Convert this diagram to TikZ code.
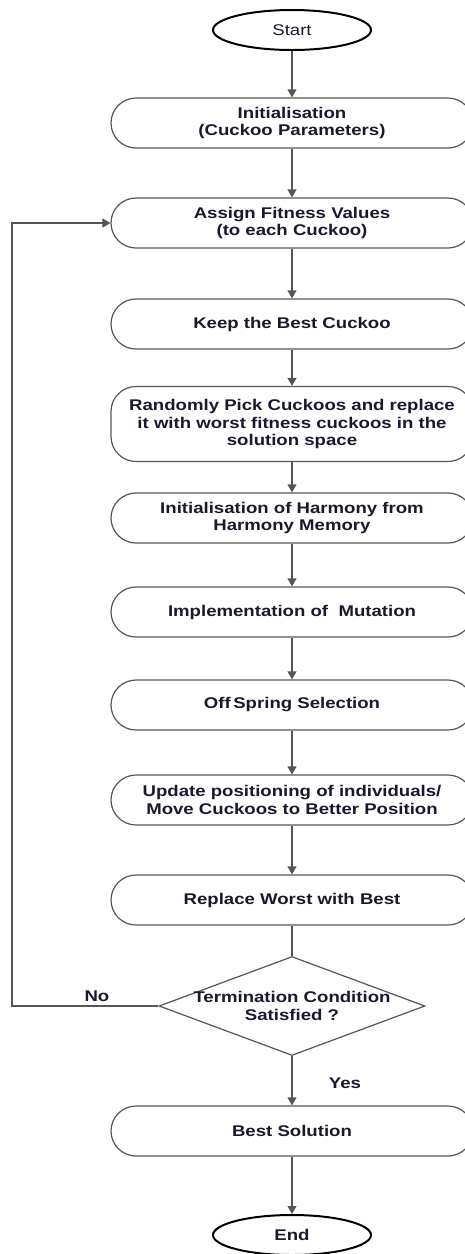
\documentclass[tikz,border=0pt]{standalone}
\usepackage{fontspec}
\setmainfont{Liberation Sans}[FakeStretch=1.2]
\usepackage{xcolor}
\usepackage{tikz}
\usetikzlibrary{
	arrows.meta,
	shapes.geometric,
	positioning
}
\definecolor{LineGray}{RGB}{85,85,85}
\definecolor{TextDark}{RGB}{25,25,45}
\newcommand\flowsize{\fontsize{15.5}{17.8}\selectfont}

\begin{document}
\begin{tikzpicture}[x=1pt, y=-1pt,
	every node/.style={text=TextDark, font=\flowsize},
	proc/.style={draw=LineGray, line width=1.2pt, rounded corners=25pt, minimum width=362pt, minimum height=50pt, inner sep=0pt, align=center, font=\bfseries\flowsize},
	term/.style={draw=black, line width=2pt, ellipse, minimum width=158pt, minimum height=40pt, inner sep=0pt},
	decision/.style={draw=LineGray, line width=1.2pt, diamond, minimum width=266pt, minimum height=99pt, inner sep=0pt},
	arr/.style={draw=LineGray, line width=1.2pt, -{Triangle[length=8pt, width=9pt]}},
	link/.style={draw=LineGray, line width=1.2pt}
]
	\useasboundingbox (0,0) rectangle (465,1254);
	\clip (0,0) rectangle (465,1254);
	
	% 开始
	\node[term] (start) at (292,30) {Start};
	
	% 各步骤
	\node[proc] (init) at (292,123) {Initialisation\\(Cuckoo Parameters)};
	\node[proc] (assign) at (292,223) {Assign Fitness Values\\(to each Cuckoo)};
	\node[proc] (keep) at (292,324) {Keep the Best Cuckoo};
	\node[proc, minimum height=75pt] (pick) at (292,424) {Randomly Pick Cuckoos and replace\\it with worst fitness cuckoos in the\\solution space};
	\node[proc] (harm) at (292,518) {Initialisation of Harmony from\\Harmony Memory};
	\node[proc] (mut) at (292,612) {Implementation of~ Mutation};
	\node[proc] (off) at (292,705) {Off\,Spring Selection};
	\node[proc] (upd) at (292,800) {Update positioning of individuals/\\Move Cuckoos to Better Position};
	\node[proc] (repl) at (292,900) {Replace Worst with Best};
	
	% 判断
	\node[decision] (dec) at (292,1006) {};
	\node[align=center, font=\bfseries\flowsize] (cond) at (292,1006) {Termination Condition\\Satisfied ?};
	
	% 结果与结束
	\node[proc] (best) at (292,1131) {Best Solution};
	\node[term, font=\bfseries\flowsize] (end) at (292,1235) {End};
	
	% 连线
	\draw[arr] (start) -- (init);
	\draw[arr] (init) -- (assign);
	\draw[arr] (assign) -- (keep);
	\draw[arr] (keep) -- (pick);
	\draw[arr] (pick) -- (harm);
	\draw[arr] (harm) -- (mut);
	\draw[arr] (mut) -- (off);
	\draw[arr] (off) -- (upd);
	\draw[arr] (upd) -- (repl);
	\draw[link] (repl) -- (dec);
	\draw[arr] (dec) -- node[right, xshift=33pt, pos=0.56, font=\bfseries\flowsize] (yes) {Yes} (best);
	\draw[arr] (best) -- (end);
	
	% 回路 (No)
	\coordinate (loop) at (12,1006);
	\draw[arr] (dec.west) -- node[above, pos=0.42, font=\bfseries\flowsize] (no) {No} (loop) |- (assign.west);
\end{tikzpicture}
\end{document}
